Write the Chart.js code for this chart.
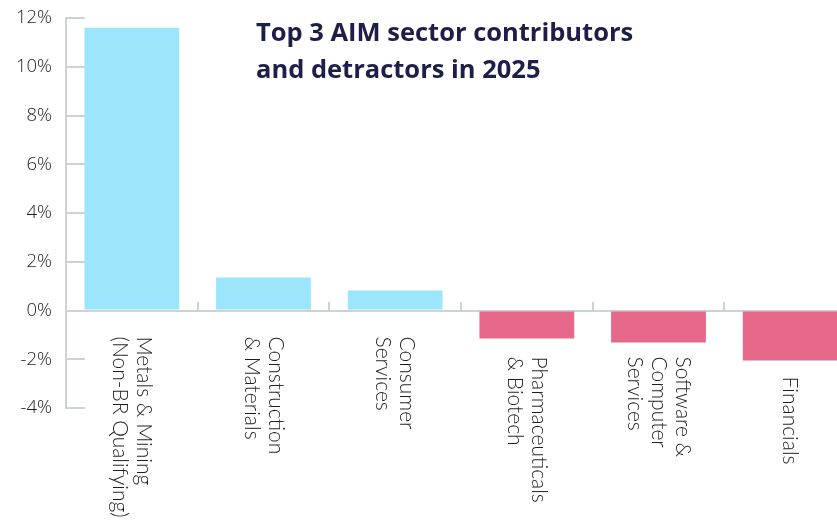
<!DOCTYPE html>
<html><head><meta charset="utf-8">
<script src="https://cdn.jsdelivr.net/npm/chart.js@4/dist/chart.umd.min.js"></script>
<style>
html,body{margin:0;padding:0;overflow:hidden;background:#fff;}
#wrap{position:relative;width:856px;height:527px;}
</style></head><body>
<div id="wrap"><canvas id="c"></canvas></div>
<script>
const categories = [["Metals & Mining","(Non-BR Qualifying)"],["Construction","& Materials"],["Consumer","Services"],["Pharmaceuticals","& Biotech"],["Software &","Computer","Services"],["Financials"]];
const returns = [11.6, 1.35, 0.82, -1.15, -1.31, -2.05];
const yTicks = [-4, -2, 0, 2, 4, 6, 8, 10, 12];
const titleLines = ["Top 3 AIM sector contributors", "and detractors in 2025"];

const POS = '#9ce6fd', NEG = '#e6688a', AXIS = '#cbd3d3';
const LABEL_FONT = '300 21px Lato';

const titlePlugin = {
  id: 'innerTitle',
  afterDraw(chart) {
    const ctx = chart.ctx;
    ctx.save();
    ctx.font = 'bold 25.5px "Open Sans"';
    ctx.fillStyle = '#1d1f48';
    ctx.textAlign = 'left';
    ctx.textBaseline = 'alphabetic';
    titleLines.forEach((t, i) => ctx.fillText(t, 256, 41 + i * 37));
    ctx.restore();
  }
};

const xLabelPlugin = {
  id: 'xLabels',
  afterDraw(chart) {
    const ctx = chart.ctx, xs = chart.scales.x, ys = chart.scales.y;
    const zero = ys.getPixelForValue(0);
    const data = chart.data.datasets[0].data;
    ctx.save();
    ctx.font = LABEL_FONT;
    ctx.fillStyle = '#1e1e1e';
    ctx.textAlign = 'left';
    ctx.textBaseline = 'middle';
    const lh = 24;
    chart.data.labels.forEach((lab, i) => {
      const cx = xs.getPixelForTick(i);
      const barBottom = Math.max(zero, ys.getPixelForValue(data[i]));
      let top = zero + 26;
      while (top < barBottom + 12) top += 20;
      const lines = Array.isArray(lab) ? lab : [lab];
      ctx.save();
      ctx.translate(cx, top);
      ctx.rotate(Math.PI / 2);
      lines.forEach((ln, j) => ctx.fillText(ln, 0, (j - (lines.length - 1) / 2) * lh));
      ctx.restore();
    });
    ctx.restore();
  }
};

new Chart(document.getElementById('c'), {
  type: 'bar',
  data: {
    labels: categories,
    datasets: [{
      data: returns,
      backgroundColor: returns.map(v => v >= 0 ? POS : NEG),
      borderWidth: 0,
      categoryPercentage: 0.72,
      barPercentage: 1.0
    }]
  },
  options: {
    responsive: true,
    maintainAspectRatio: false,
    animation: false,
    devicePixelRatio: 1,
    layout: { padding: { left: 0, right: 0, top: 18, bottom: 119 } },
    plugins: { legend: { display: false }, tooltip: { enabled: false }, title: { display: false } },
    scales: {
      x: {
        position: { y: 0 },
        z: 1,
        offset: true,
        grid: { display: true, drawOnChartArea: false, drawTicks: true, tickLength: -10, color: AXIS, lineWidth: 2 },
        border: { display: true, color: AXIS, width: 2 },
        ticks: { display: false }
      },
      y: {
        min: -4, max: 12,
        afterBuildTicks: s => { s.ticks = yTicks.map(v => ({ value: v })); },
        afterFit: s => { s.width = 66; s.paddingTop = 10; s.paddingBottom = 10; },
        grid: { display: true, drawOnChartArea: false, drawTicks: true, tickLength: -19, color: AXIS, lineWidth: 2 },
        border: { display: true, color: AXIS, width: 2 },
        ticks: {
          padding: 33,
          color: '#1e1e1e',
          font: { family: '"Open Sans"', size: 18.5, weight: '300' },
          callback: v => v + '%'
        }
      }
    }
  },
  plugins: [titlePlugin, xLabelPlugin]
});
</script>
</body></html>
